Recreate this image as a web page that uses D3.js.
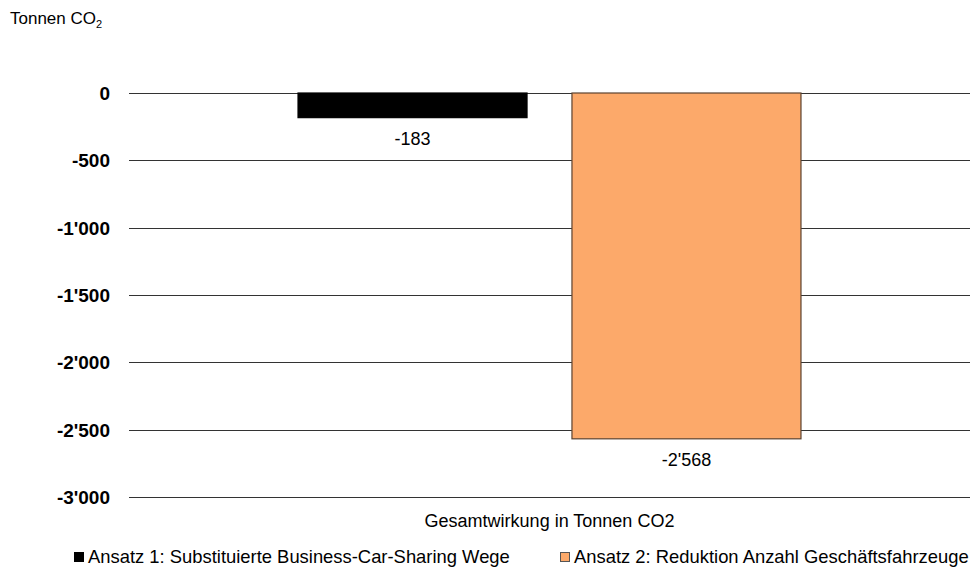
<!DOCTYPE html>
<html><head><meta charset="utf-8">
<script src="https://cdn.jsdelivr.net/npm/d3@7"></script>
<style>body{margin:0;background:#fff;} text{font-family:"Liberation Sans",Arial,sans-serif;fill:#000;}</style>
</head><body>
<svg id="c" width="970" height="576"></svg>
<script>
const category = "Gesamtwirkung in Tonnen CO2";
const seriesNames = ["Ansatz 1: Substituierte Business-Car-Sharing Wege", "Ansatz 2: Reduktion Anzahl Geschäftsfahrzeuge"];
const seriesValues = [-183, -2568];
const seriesColors = ["#000000", "#FCA96A"];
const seriesStrokes = ["#000000", "#5c4330"];
const yTicks = [0, -500, -1000, -1500, -2000, -2500, -3000];

const svg = d3.select("#c");
const fmt = v => d3.format(",")(Math.abs(v)).replace(/,/g, "'").replace(/^/, v < 0 ? "-" : "");

const y = d3.scaleLinear().domain([-3000, 0]).range([497, 93]);
const x = d3.scaleBand().domain(seriesNames).range([129, 970]).paddingInner(0.164).paddingOuter(0.617);

// gridlines
svg.append("g").selectAll("line").data(yTicks).join("line")
  .attr("x1", 129).attr("x2", 970)
  .attr("y1", d => Math.round(y(d)) + 0.5).attr("y2", d => Math.round(y(d)) + 0.5)
  .attr("stroke", "#333", ).attr("stroke-width", 1.2);

// y labels
svg.append("g").selectAll("text").data(yTicks).join("text")
  .attr("x", 110).attr("y", d => y(d)).attr("dy", "0.36em")
  .attr("text-anchor", "end").attr("font-weight", "bold").attr("font-size", 19)
  .text(d => fmt(d));

// bars
const data = seriesNames.map((n, i) => ({name: n, value: seriesValues[i], color: seriesColors[i], stroke: seriesStrokes[i]}));
svg.append("g").selectAll("rect").data(data).join("rect")
  .attr("x", d => x(d.name)).attr("width", x.bandwidth())
  .attr("y", d => y(0)).attr("height", d => y(d.value) - y(0))
  .attr("fill", d => d.color).attr("stroke", d => d.stroke).attr("stroke-width", 1.2);

// value labels
svg.append("g").selectAll("text").data(data).join("text")
  .attr("x", d => x(d.name) + x.bandwidth() / 2).attr("y", d => y(d.value) + 27)
  .attr("text-anchor", "middle").attr("font-size", 18)
  .text(d => fmt(d.value));

// title
const t = svg.append("text").attr("x", 10).attr("y", 24).attr("font-size", 17);
t.append("tspan").text("Tonnen CO");
t.append("tspan").attr("font-size", 11).attr("dy", 4).text("2");

// x category label
svg.append("text").attr("x", 549.5).attr("y", 527).attr("text-anchor", "middle").attr("font-size", 18)
  .text(category);

// legend
const legX = [74, 560];
const leg = svg.append("g").selectAll("g").data(data).join("g")
  .attr("transform", (d, i) => `translate(${legX[i]},552)`);
leg.append("rect").attr("x", 0.5).attr("y", 0.5).attr("width", 9).attr("height", 9)
  .attr("fill", d => d.color).attr("stroke", (d, i) => i === 0 ? "#000" : "#555");
leg.append("text").attr("x", 14).attr("y", 11).attr("font-size", 18.4).text(d => d.name);
</script>
</body></html>
